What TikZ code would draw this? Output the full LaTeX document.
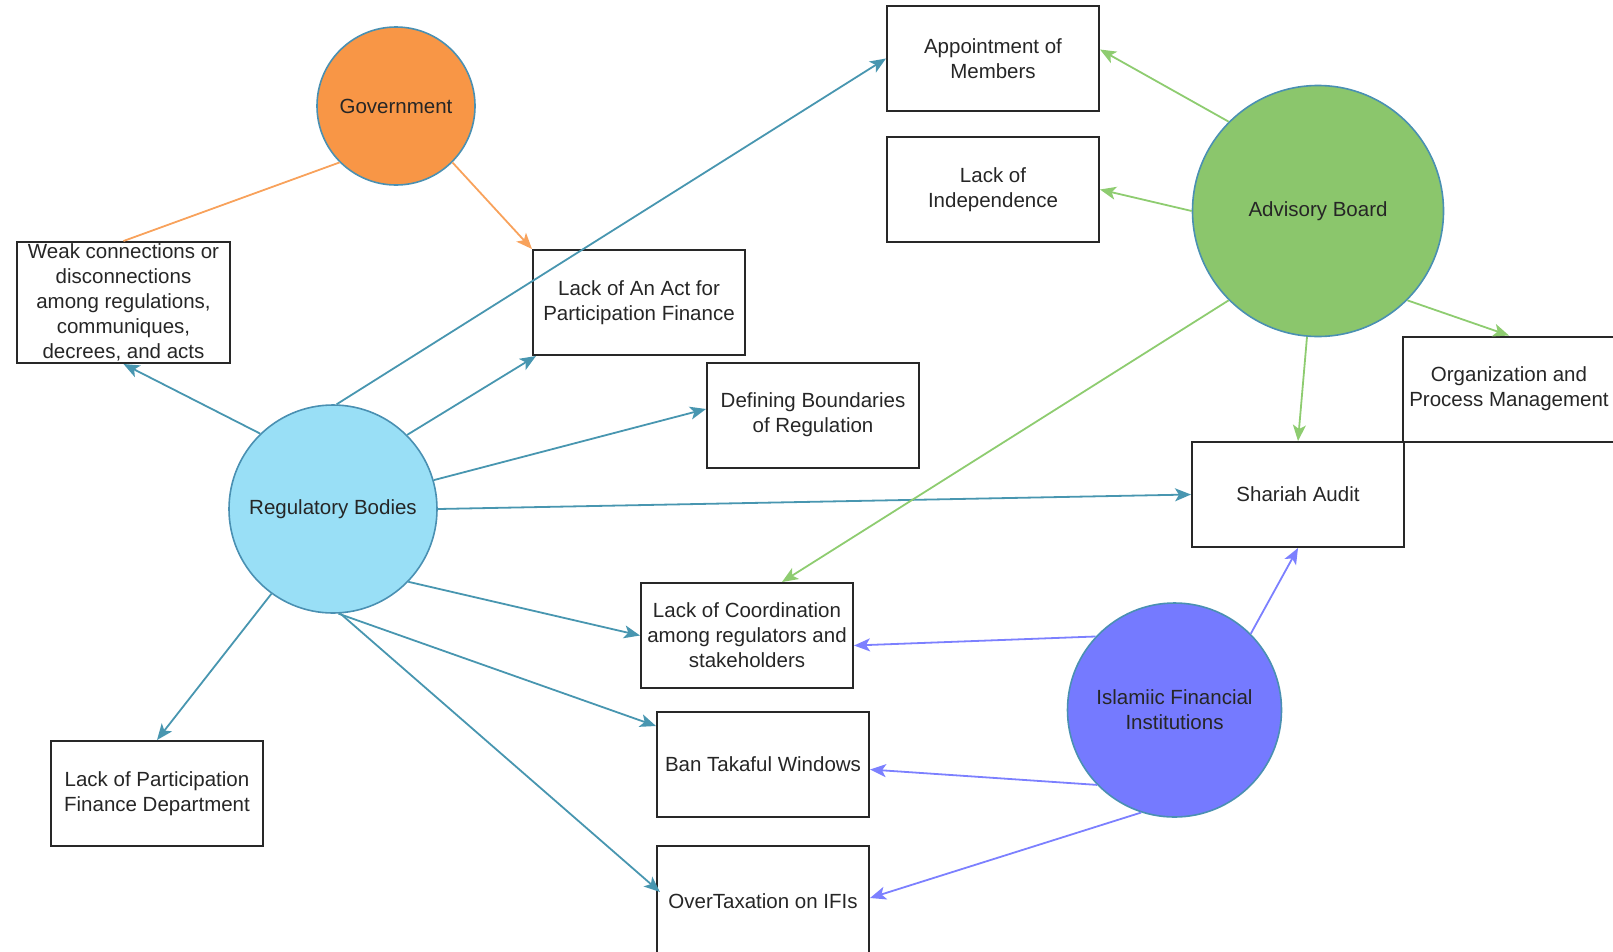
\documentclass[tikz,border=0pt]{standalone}
\usepackage{fontspec}
\setmainfont{Liberation Sans}
\usetikzlibrary{arrows.meta,calc}

\definecolor{edgeblue}{RGB}{74,144,178}
\definecolor{govfill}{RGB}{248,150,70}
\definecolor{advfill}{RGB}{139,198,108}
\definecolor{regfill}{RGB}{153,223,246}
\definecolor{ififill}{RGB}{117,122,255}
\definecolor{linkreg}{RGB}{72,150,176}
\definecolor{linkgov}{RGB}{248,162,92}
\definecolor{linkadv}{RGB}{142,204,112}
\definecolor{linkifi}{RGB}{124,128,255}
\definecolor{boxline}{RGB}{40,40,40}

\begin{document}
\begin{tikzpicture}[x=1pt,y=-1pt,
  actor/.style={circle,draw=edgeblue,line width=1.6pt,inner sep=0pt,
    font=\fontsize{20.5}{25}\selectfont,align=center,text=black!85},
  issue/.style={rectangle,draw=boxline,line width=2pt,minimum width=212pt,
    minimum height=105pt,inner sep=0pt,font=\fontsize{20.5}{25}\selectfont,
    align=center,text=black!85},
  link/.style={line width=1.8pt,-{Stealth[length=16pt,width=13pt,inset=4pt]}},
  plain/.style={line width=1.8pt}]

\useasboundingbox (0,0) rectangle (1613,951);
\clip (0,0) rectangle (1613,951);

% actors
\node[actor,fill=govfill,minimum size=158pt] (gov) at (396,106) {Government};
\node[actor,fill=advfill,minimum size=251pt] (adv) at (1318,211) {Advisory Board};
\node[actor,fill=regfill,minimum size=208pt] (reg) at (333,509) {Regulatory Bodies};
\node[actor,fill=ififill,minimum size=214pt] (ifi) at (1174.5,710) {Islamiic Financial\\Institutions};

% issues
\node[issue] (app) at (993,58.5) {Appointment of\\Members};
\node[issue] (ind) at (993,189.5) {Lack of\\Independence};
\node[issue,minimum width=213pt,minimum height=121pt] (weak) at (123.5,302.5)
  {Weak connections or\\disconnections\\among regulations,\\communiques,\\decrees, and acts};
\node[issue] (act) at (639,302.5) {Lack of An Act for\\Participation Finance};
\node[issue] (def) at (813,415) {Defining Boundaries\\of Regulation};
\node[issue] (org) at (1509,389) {Organization and\\Process Management};
\node[issue] (sa) at (1298,494.5) {Shariah Audit};
\node[issue] (coord) at (747,635.5) {Lack of Coordination\\among regulators and\\stakeholders};
\node[issue] (ban) at (763,764.5) {Ban Takaful Windows};
\node[issue,minimum height=110pt] (ot) at (763,901) {OverTaxation on IFIs};
\node[issue] (lpfd) at (157,793.5) {Lack of Participation\\Finance Department};

% government links
\draw[plain,linkgov] (gov.-135) -- (weak.north);
\draw[link,linkgov] (gov.-45) -- (act.north west);

% regulatory bodies links
\draw[link,linkreg] (reg.134) -- (weak.south);
\draw[link,linkreg] (reg.88) -- (app.west);
\draw[link,linkreg] (reg.45) -- ($(act.south west)+(4,0)$);
\draw[link,linkreg] (reg.16) -- ($(def.west)+(0,-6)$);
\draw[link,linkreg] (reg.0) -- (sa.west);
\draw[link,linkreg] (reg.-44) -- (coord.west);
\draw[link,linkreg] (reg.-87) -- ($(ban.north west)+(0,15)$);
\draw[link,linkreg] (reg.-86) -- ($(ot.west)+(4,-9)$);
\draw[link,linkreg] (reg.-126) -- (lpfd.north);

% advisory board links
\draw[link,linkadv] (adv.135) -- ($(app.east)+(0,-9)$);
\draw[link,linkadv] (adv.180) -- (ind.east);
\draw[link,linkadv] (adv.-135) -- ($(coord.north)+(35,0)$);
\draw[link,linkadv] (adv.-45) -- (org.north);
\draw[link,linkadv] (adv.-95) -- (sa.north);

% islamic financial institutions links
\draw[link,linkifi] (ifi.45) -- (sa.south);
\draw[link,linkifi] (ifi.137) -- ($(coord.east)+(0,10)$);
\draw[link,linkifi] (ifi.-136) -- ($(ban.east)+(0,5)$);
\draw[link,linkifi] (ifi.-108) -- ($(ot.east)+(0,-3)$);
\end{tikzpicture}
\end{document}
